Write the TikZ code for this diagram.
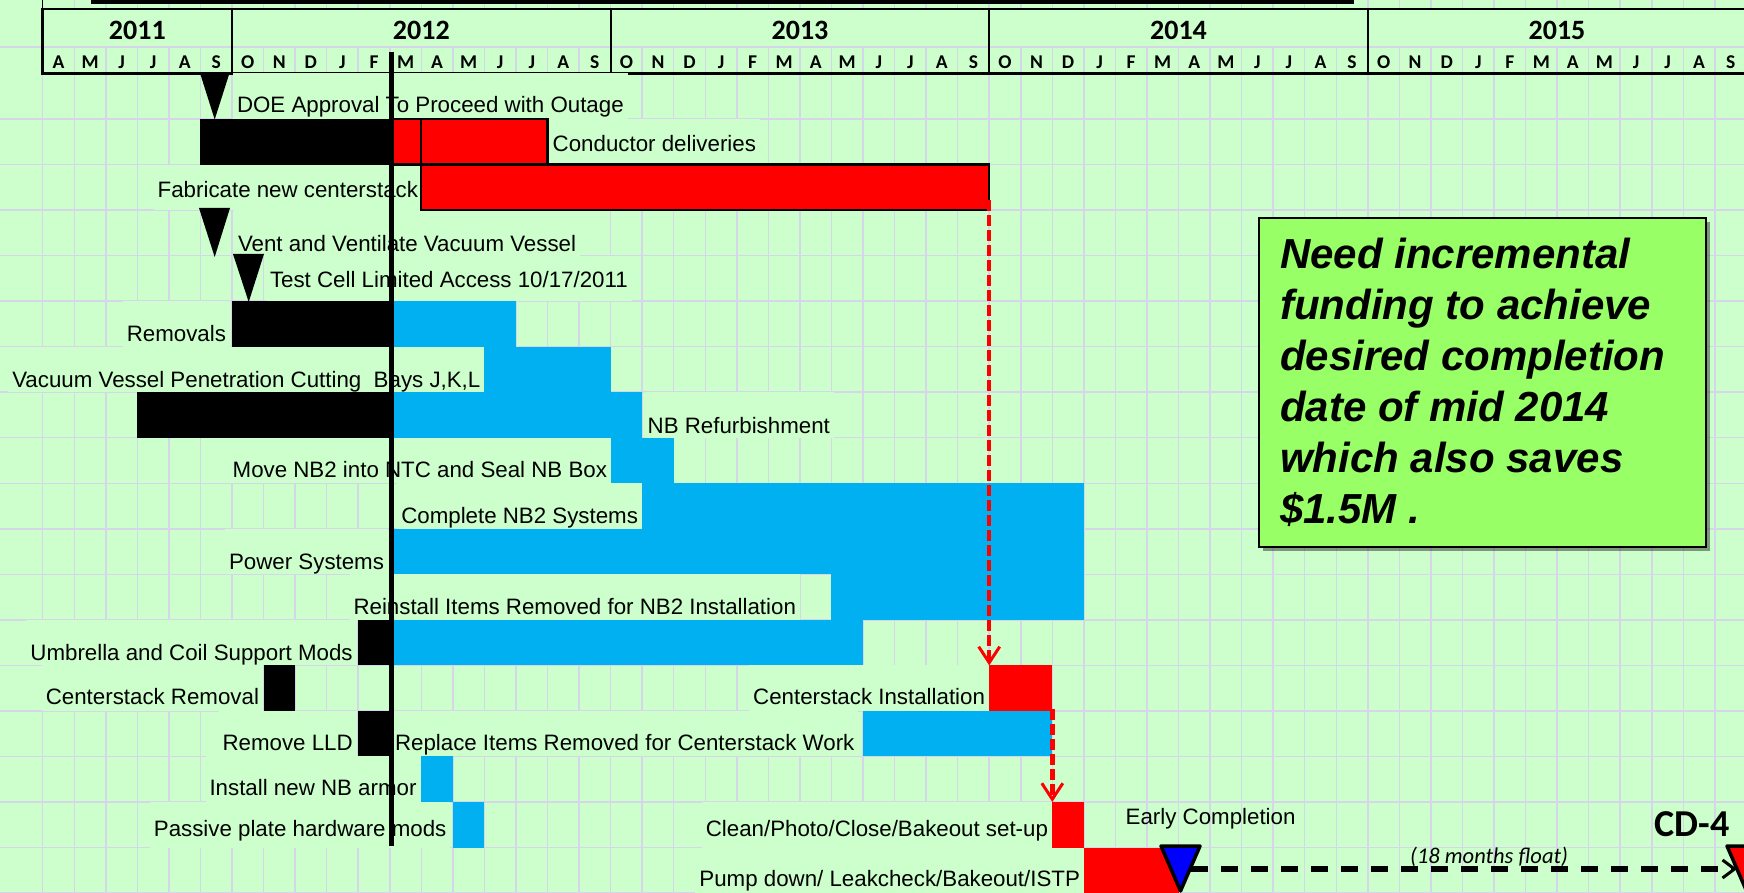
\documentclass[tikz,border=0pt]{standalone}
\usepackage{fontspec}
\setmainfont{Liberation Sans}
\newfontfamily\calfont{Carlito}
\usetikzlibrary{arrows.meta,calc,shadows}
\definecolor{bgc}{HTML}{CCFFCC}
\definecolor{gridc}{HTML}{D6D6EA}
\definecolor{bluebar}{HTML}{00B0F0}
\definecolor{redbar}{HTML}{FF0000}
\definecolor{notec}{HTML}{99FF66}
\definecolor{mstblue}{HTML}{0000FF}
\def\GXo{42.7}
\def\GMw{31.55}
\def\GRy{73.5}
\def\GRh{45.53}
% bar: name, row, m1, m2, style
\newcommand\gbar[5]{%
  \pgfmathsetmacro\gbx{\GXo+\GMw*(#3)}%
  \pgfmathsetmacro\gby{\GRy+\GRh*(#2)}%
  \pgfmathsetmacro\gbw{\GMw*((#4)-(#3))}%
  \node[#5, anchor=north west, minimum width=\gbw pt, minimum height=\GRh pt] (#1) at (\gbx,\gby) {};}
% label: name, row, side, x, baseline offset, text
\newcommand\glab[6]{%
  \pgfmathsetmacro\gly{\GRy+\GRh*(#2)+(#5)}%
  \pgfmathsetmacro\gld{\GRh-(#5)}%
  \node[lab, text height=#5pt, text depth=\gld pt, anchor=base #3] (#1) at (#4,\gly) {#6};}
\begin{document}
\begin{tikzpicture}[x=1pt,y=-1pt,
  gridl/.style={draw=gridc, line width=1.5pt},
  lab/.style={font=\fontsize{22.3}{26}\selectfont, fill=bgc, inner xsep=4pt, inner ysep=0pt, outer sep=0pt},
  blk/.style={fill=black, inner sep=0pt, outer sep=0pt},
  blu/.style={fill=bluebar, inner sep=0pt, outer sep=0pt},
  redo/.style={fill=redbar, draw=black, line width=2.2pt, inner sep=0pt, outer sep=0pt},
  redf/.style={fill=redbar, inner sep=0pt, outer sep=0pt},
  yr/.style={font=\calfont\bfseries\fontsize{28}{32}\selectfont, inner sep=0pt},
  mon/.style={font=\calfont\bfseries\fontsize{19.5}{22}\selectfont, inner sep=0pt},
  redarrow/.style={draw=redbar, line width=4.5pt, dash pattern=on 11pt off 4pt, -{Straight Barb[length=16pt,width=21pt,line width=3pt]}},
  blkarrow/.style={draw=black, line width=6pt, dash pattern=on 17pt off 13pt, -{Straight Barb[length=12pt,width=18pt,line width=3pt]}},
  notebox/.style={fill=notec, draw=black, line width=1.5pt, inner sep=0pt, outer sep=0pt,
     drop shadow={shadow xshift=4pt, shadow yshift=-4pt, opacity=0.4, fill=black}},
  notetxt/.style={font=\bfseries\itshape\fontsize{42}{51}\selectfont, inner sep=0pt},
  plain/.style={font=\fontsize{22.3}{26}\selectfont, inner sep=0pt}
]
\useasboundingbox (0,0) rectangle (1744,893);
\clip (0,0) rectangle (1744,893);
\fill[bgc] (0,0) rectangle (1744,893);
% grid
\foreach \m in {0,...,54} \draw[gridl] ({\GXo+\GMw*\m},0) -- ++(0,893);
\foreach \k in {1,...,18} \draw[gridl] (0,{\GRy+\GRh*\k}) -- (1744,{\GRy+\GRh*\k});
\draw[gridl] (0,47) -- (1744,47);
% header
\fill[bgc] (\GXo,9) rectangle (1760,46.2);
\fill[black] (91,0) rectangle (1354,4.2);
\draw[line width=2.5pt] (1760,9) -- (\GXo,9) -- (\GXo,73.5) -- (1760,73.5);
\draw[line width=1.5pt] (\GXo,0) -- (\GXo,9);
\foreach \m in {6,18,30,42} \draw[line width=2.2pt] ({\GXo+\GMw*\m},9) -- ({\GXo+\GMw*\m},73.5);
\node[yr, anchor=base] (y2011) at (137.3,39.3) {2011};
\node[yr, anchor=base] (y2012) at (421.3,39.3) {2012};
\node[yr, anchor=base] (y2013) at (800,39.3) {2013};
\node[yr, anchor=base] (y2014) at (1178.5,39.3) {2014};
\node[yr, anchor=base] (y2015) at (1557,39.3) {2015};
\foreach \l [count=\i from 0] in {A,M,J,J,A,S,O,N,D,J,F,M,A,M,J,J,A,S,O,N,D,J,F,M,A,M,J,J,A,S,O,N,D,J,F,M,A,M,J,J,A,S,O,N,D,J,F,M,A,M,J,J,A,S}
  \node[mon, anchor=base] (mon\i) at ({\GXo+\GMw*(\i+0.5)},68.3) {\l};
% labels
\glab{l0}{0}{west}{233}{39}{DOE Approval To Proceed with Outage}
\glab{l1}{1}{west}{548.7}{32.2}{Conductor deliveries}
\glab{l2}{2}{east}{422}{32.6}{Fabricate new centerstack}
\glab{l3}{3}{west}{234}{41}{Vent and Ventilate Vacuum Vessel}
\glab{l4}{4}{west}{266}{32.2}{Test Cell Limited Access 10/17/2011}
\glab{l5}{5}{east}{230}{40}{Removals}
\glab{l6}{6}{east}{484.4}{40.5}{Vacuum Vessel Penetration Cutting\ \ Bays J,K,L}
\glab{l7}{7}{west}{643.7}{40.8}{NB Refurbishment}
\glab{l8}{8}{east}{611}{39.7}{Move NB2 into NTC and Seal NB Box}
\glab{l9}{9}{east}{642}{40.3}{Complete NB2 Systems}
\glab{l10}{10}{east}{388}{40.5}{Power Systems}
\glab{l11}{11}{east}{800}{39.8}{Reinstall Items Removed for NB2 Installation}
\glab{l12}{12}{east}{356.7}{41}{Umbrella and Coil Support Mods}
\glab{l13a}{13}{east}{263}{38.7}{Centerstack Removal}
\glab{l13b}{13}{east}{989}{39.3}{Centerstack Installation}
\glab{l14a}{14}{east}{356.7}{39.4}{Remove LLD}
\glab{l14b}{14}{west}{391}{39.4}{Replace Items Removed for Centerstack Work}
\glab{l15}{15}{east}{420.5}{39.3}{Install new NB armor}
\glab{l16a}{16}{east}{450.4}{34.1}{Passive plate hardware mods}
\glab{l16b}{16}{east}{1052}{35}{Clean/Photo/Close/Bakeout set-up}
\glab{l17}{17}{east}{1084}{39.1}{Pump down/ Leakcheck/Bakeout/ISTP}
% bars
\gbar{b1k}{1}{5}{11}{blk}
\gbar{b1r}{1}{11}{12}{redo}
\gbar{cond}{1}{12}{16}{redo}
\gbar{fab}{2}{12}{30}{redo}
\gbar{b5k}{5}{6}{11}{blk}
\gbar{b5b}{5}{11}{15}{blu}
\gbar{b6b}{6}{14}{18}{blu}
\gbar{b7k}{7}{3}{11}{blk}
\gbar{b7b}{7}{11}{19}{blu}
\gbar{b8b}{8}{18}{20}{blu}
\gbar{b9b}{9}{19}{33}{blu}
\gbar{b10b}{10}{11}{33}{blu}
\gbar{b11b}{11}{25}{33}{blu}
\gbar{b12k}{12}{10}{11}{blk}
\gbar{b12b}{12}{11}{26}{blu}
\gbar{b13k}{13}{7}{8}{blk}
\gbar{csi}{13}{30}{32}{redf}
\gbar{b14k}{14}{10}{11}{blk}
\gbar{b14b}{14}{26}{32}{blu}
\gbar{b15b}{15}{12}{13}{blu}
\gbar{b16b}{16}{13}{14}{blu}
\gbar{clean}{16}{32}{33}{redf}
\gbar{pump}{17}{33}{36}{redf}
% status line
\coordinate (st1) at (391,52);
\coordinate (st2) at (391,846);
\draw[line width=5pt] (st1) -- (st2);
% milestones
\fill[black] (200,73) -- (229.5,73) -- (214.7,119.5) -- cycle;
\fill[black] (199,208) -- (230,208) -- (214.7,257) -- cycle;
\fill[black] (233,254) -- (264,254) -- (248.7,302) -- cycle;
% red dependency arrows
\draw[redarrow] ($(fab.south east)+(0,-10)$) -- (csi.north west);
\draw[redarrow] ($(csi.south east)+(0,-2)$) -- (clean.north west);
% float arrow and end milestones
\coordinate (ecR) at (1191,869);
\coordinate (cdL) at (1737,869);
\draw[blkarrow] (ecR) -- (cdL);
\filldraw[fill=mstblue, draw=black, line width=3.5pt, line join=round] (1161,846) -- (1200,846) -- (1180.5,891) -- cycle;
\filldraw[fill=redbar, draw=black, line width=3.5pt, line join=round] (1727,846) -- (1766,846) -- (1746.5,891) -- cycle;
\node[plain, anchor=base west] (early) at (1125.5,824.6) {Early Completion};
\node[font=\calfont\bfseries\fontsize{38}{42}\selectfont, inner sep=0pt, anchor=base east] (cd4) at (1730,836) {CD-4};
\node[font=\calfont\itshape\fontsize{22.5}{26}\selectfont, inner sep=0pt, anchor=base west] (float) at (1410,863) {(18 months float)};
% note
\node[notebox, anchor=north west, minimum width=447pt, minimum height=329pt] (note) at (1259,218) {};
\node[notetxt, anchor=base west] (n1) at (1280,268.3) {Need incremental};
\node[notetxt, anchor=base west] (n2) at (1280,319.3) {funding to achieve};
\node[notetxt, anchor=base west] (n3) at (1280,370.3) {desired completion};
\node[notetxt, anchor=base west] (n4) at (1280,421.3) {date of mid 2014};
\node[notetxt, anchor=base west] (n5) at (1280,472.3) {which also saves};
\node[notetxt, anchor=base west] (n6) at (1280,523.3) {\$1.5M .};
\end{tikzpicture}
\end{document}
